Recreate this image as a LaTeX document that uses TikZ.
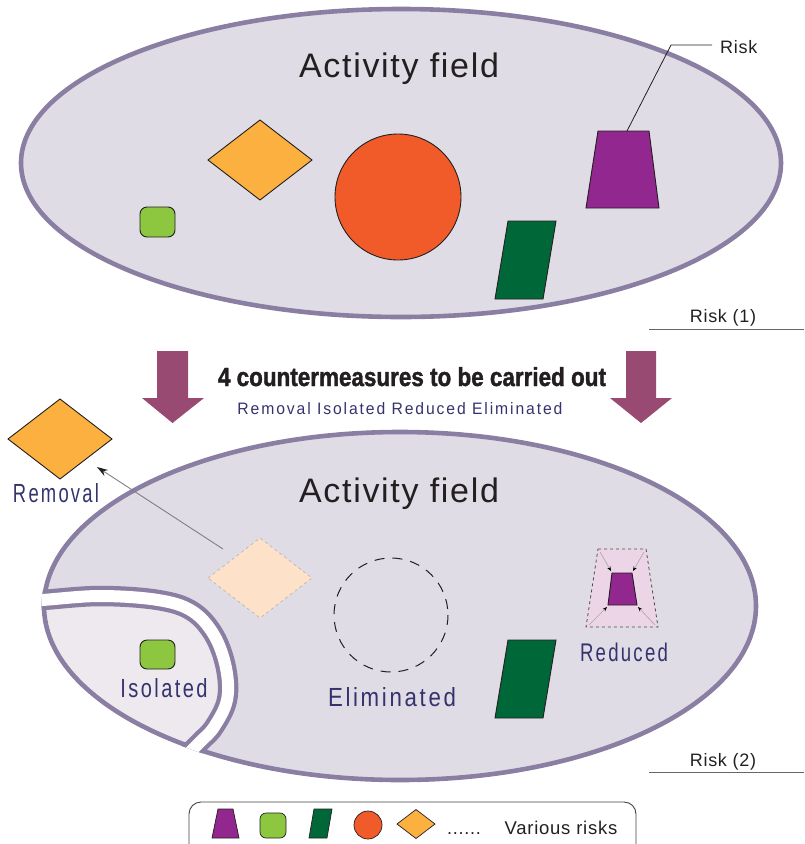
\documentclass[tikz,border=0pt]{standalone}
\usepackage{fontspec}
\usepackage{graphicx}
\setmainfont{Liberation Sans}
\newfontfamily\lblfont[LetterSpace=12]{Liberation Sans}
\newfontfamily\smallfont[LetterSpace=4]{Liberation Sans}
\newfontfamily\fieldfont[LetterSpace=5]{Liberation Sans}
\newfontfamily\headfont[FakeBold=1.6]{Liberation Sans Bold}
\usetikzlibrary{arrows.meta}
\definecolor{fieldfill}{RGB}{223,220,229}
\definecolor{fieldline}{RGB}{138,126,162}
\definecolor{isofill}{RGB}{238,233,238}
\definecolor{arrowpurple}{RGB}{153,74,114}
\definecolor{riskorange}{RGB}{251,176,64}
\definecolor{riskred}{RGB}{241,90,41}
\definecolor{risklime}{RGB}{141,198,63}
\definecolor{riskgreen}{RGB}{0,104,56}
\definecolor{riskpurple}{RGB}{146,39,143}
\definecolor{ghostfill}{RGB}{253,225,200}
\definecolor{redfill}{RGB}{237,213,232}
\definecolor{lblblue}{RGB}{52,51,110}
\definecolor{ink}{RGB}{35,31,32}
\tikzset{
  field/.style={fill=fieldfill},
  fieldborder/.style={draw=fieldline,line width=4.6pt},
  riskshape/.style={draw=ink,line width=0.9pt},
  fieldtitle/.style={text=ink,font=\fieldfont\fontsize{34}{40}\selectfont,anchor=base,inner sep=0pt},
  smalltext/.style={text=ink,font=\smallfont\fontsize{18}{22}\selectfont,anchor=base,inner sep=0pt},
  downarrow/.style={fill=arrowpurple},
  rule/.style={draw=gray!80!black,line width=0.8pt},
  shrink/.style={draw=gray!70,line width=0.6pt,-{Stealth[length=4.5pt,width=3.5pt,color=black]}}
}
\begin{document}
\begin{tikzpicture}[x=1pt,y=-1pt]
\useasboundingbox (0,0) rectangle (804,844);
% ---------------- top field ----------------
\fill[field] (401,163) ellipse [x radius=380, y radius=154];
\draw[fieldborder] (401,163) ellipse [x radius=380, y radius=154];
\node[fieldtitle] (title1) at (399,77) {Activity field};
% diamond
\draw[riskshape,fill=riskorange] (208,160) -- (260,120) -- (312,160) -- (260,200) -- cycle;
% circle
\draw[riskshape,fill=riskred] (398,197) circle [radius=63];
% lime square
\draw[riskshape,fill=risklime,rounded corners=7pt] (140,207) rectangle (175,237);
% parallelogram
\draw[riskshape,fill=riskgreen] (508,221) -- (556,221) -- (543,299) -- (495,299) -- cycle;
% trapezoid
\draw[riskshape,fill=riskpurple] (598,131) -- (649,131) -- (659,208) -- (586,208) -- cycle;
% risk leader
\coordinate (trapTop) at (627,131);
\coordinate (bend) at (671,45);
\coordinate (leaderEnd) at (712,45);
\node[smalltext,anchor=base west] (risk) at (720,53) {Risk};
\draw[ink,line width=0.8pt] (trapTop) -- (bend) -- (leaderEnd);
% risk (1)
\node[smalltext] (risk1) at (723,322) {Risk (1)};
\draw[rule] (649,329) -- (804,329);
% ---------------- arrows and heading ----------------
\fill[downarrow] (157,351) -- (188,351) -- (188,398) -- (204,398) -- (172.5,423) -- (142,398) -- (157,398) -- cycle;
\fill[downarrow] (626,351) -- (656,351) -- (656,398) -- (672,398) -- (641,423) -- (610,398) -- (626,398) -- cycle;
\node[anchor=base,inner sep=0pt,text=ink] (heading) at (412,386)
  {\resizebox{388pt}{19pt}{\headfont\fontsize{26}{30}\selectfont 4 countermeasures to be carried out}};
\node[anchor=base,inner sep=0pt,text=lblblue] (subheading) at (400,414)
  {\resizebox{325pt}{12pt}{\lblfont\fontsize{16}{20}\selectfont Removal Isolated Reduced Eliminated}};
% ---------------- bottom field ----------------
\def\cutpath{plot[smooth,tension=0.6] coordinates {(15,601) (42,600) (100,596) (158,600) (192,611) (214,635) (226,668) (227,700) (214,727) (200,742) (185,757)}}
\fill[field] (400,606) ellipse [x radius=356, y radius=174];
\begin{scope}
  \clip (400,606) ellipse [x radius=356, y radius=174];
  \fill[isofill] \cutpath -- (185,800) -- (0,800) -- (0,601) -- cycle;
\end{scope}
\draw[fieldborder] (400,606) ellipse [x radius=356, y radius=174];
\begin{scope}
  \clip (400,606) ellipse [x radius=358.5, y radius=176.5];
  \draw[fieldline,line width=20.5pt] \cutpath;
  \draw[white,line width=12pt] \cutpath;
\end{scope}
\node[fieldtitle] (title2) at (399,502) {Activity field};
% removal
\draw[draw=gray!60,dashed,fill=ghostfill,line width=0.6pt] (208,578) -- (260,538) -- (312,578) -- (260,618) -- cycle;
\draw[riskshape,fill=riskorange] (8,439) -- (60,399) -- (112,439) -- (60,479) -- cycle;
\node[anchor=base,inner sep=0pt,text=lblblue] (removal) at (56,502) {\resizebox{86pt}{19pt}{\lblfont\fontsize{24}{28}\selectfont Removal}};
\coordinate (ghostEdge) at (223,549);
\coordinate (removedEdge) at (97,467);
\draw[draw=gray,line width=0.9pt,-{Stealth[length=11pt,width=7pt,color=ink]}] (ghostEdge) -- (removedEdge);
% eliminated
\draw[ink,line width=1pt,dash pattern=on 10pt off 8pt] (391,615) circle [radius=57];
\node[anchor=base,inner sep=0pt,text=lblblue] (elim) at (392,706) {\resizebox{128pt}{19pt}{\lblfont\fontsize{24}{28}\selectfont Eliminated}};
% isolated
\draw[riskshape,fill=risklime,rounded corners=7pt] (140,640) rectangle (175,669);
\node[anchor=base,inner sep=0pt,text=lblblue] (iso) at (164,697) {\resizebox{87pt}{19pt}{\lblfont\fontsize{24}{28}\selectfont Isolated}};
% parallelogram
\draw[riskshape,fill=riskgreen] (508,640) -- (556,640) -- (543,718) -- (495,718) -- cycle;
% reduced
\draw[draw=ink!80,dashed,fill=redfill,line width=0.8pt] (598,549) -- (646,549) -- (658,627) -- (586,627) -- cycle;
\draw[riskshape,fill=riskpurple] (612,573) -- (632,573) -- (637,605) -- (608,605) -- cycle;
\coordinate (o1) at (600,552); \coordinate (i1) at (611,571);
\coordinate (o2) at (644,552); \coordinate (i2) at (633,571);
\coordinate (o3) at (589,625); \coordinate (i3) at (607,607);
\coordinate (o4) at (655,625); \coordinate (i4) at (638,607);
\draw[shrink] (o1) -- (i1);
\draw[shrink] (o2) -- (i2);
\draw[shrink] (o3) -- (i3);
\draw[shrink] (o4) -- (i4);
\node[anchor=base,inner sep=0pt,text=lblblue] (red) at (624,661) {\resizebox{88pt}{18.5pt}{\lblfont\fontsize{24}{28}\selectfont Reduced}};
% risk (2)
\node[smalltext] (risk2) at (723,766) {Risk (2)};
\draw[rule] (649,772) -- (804,772);
% ---------------- legend ----------------
\begin{scope}
  \clip (0,0) rectangle (804,844);
  \draw[draw=ink!85,line width=0.9pt,rounded corners=12pt] (189,802) rectangle (636,870);
\end{scope}
\draw[riskshape,fill=riskpurple,line width=0.7pt] (218,809) -- (233,809) -- (239,838) -- (212,838) -- cycle;
\draw[riskshape,fill=risklime,line width=0.7pt,rounded corners=6pt] (260,813) rectangle (286,838);
\draw[riskshape,fill=riskgreen,line width=0.7pt] (314,809) -- (332,809) -- (327,838) -- (309,838) -- cycle;
\draw[riskshape,fill=riskred,line width=0.7pt] (368,825) circle [radius=14];
\draw[riskshape,fill=riskorange,line width=0.7pt] (397,824) -- (416,809.5) -- (435,824) -- (416,838.5) -- cycle;
\node[smalltext] (dots) at (464,834) {......};
\node[smalltext,font=\smallfont\fontsize{18.5}{22}\selectfont] (legendtext) at (561,834) {Various risks};
\end{tikzpicture}
\end{document}
